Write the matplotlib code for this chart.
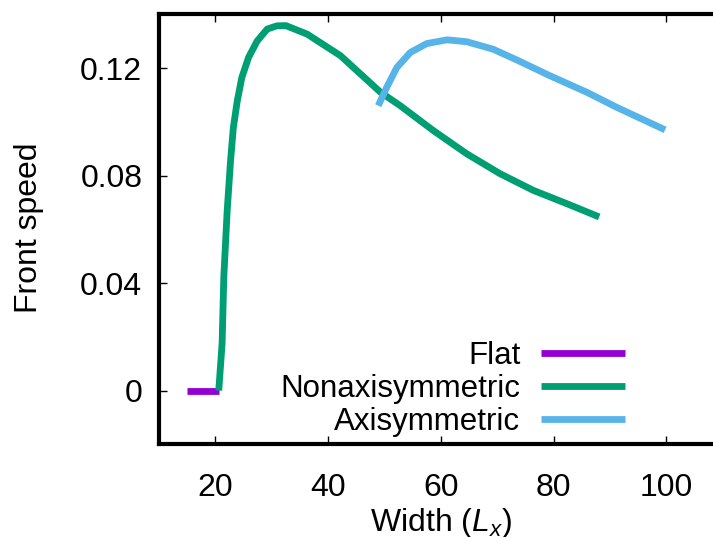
import matplotlib
matplotlib.use("Agg")
import matplotlib.pyplot as plt

# front speed vs channel width, one curve per front shape
flat_w = [15.0, 20.7]
flat_v = [0.0, 0.0]

nonaxi_w = [20.6, 21.2, 21.5, 22.1, 22.7, 23.2, 23.9, 24.7, 25.9, 27.4, 29.2, 30.9,
            32.5, 36.3, 42.2, 49.3, 52.8, 58.7, 64.6, 70.5, 76.4, 82.4, 88.1]
nonaxi_v = [0.0, 0.0176, 0.0423, 0.067, 0.0856, 0.098, 0.1079, 0.1165, 0.124, 0.130, 0.1345, 0.1357,
            0.1358, 0.1326, 0.1246, 0.111, 0.106, 0.0967, 0.0881, 0.0807, 0.0745, 0.0695, 0.0646]

axi_w = [48.9, 50.4, 52.2, 54.6, 57.5, 61.1, 64.6, 69.3, 73.5, 79.4, 85.9, 91.2, 99.8]
axi_v = [0.106, 0.1128, 0.1202, 0.1258, 0.1291, 0.1305, 0.1298, 0.127, 0.1230, 0.1171, 0.111, 0.1054, 0.097]

xticks = [20, 40, 60, 80, 100]
yticks = [0, 0.04, 0.08, 0.12]
ytick_labels = ["0", "0.04", "0.08", "0.12"]

plt.rcParams["font.family"] = ["Liberation Sans", "DejaVu Sans"]
plt.rcParams["mathtext.fontset"] = "custom"
plt.rcParams["mathtext.it"] = "Liberation Sans:italic"
plt.rcParams["mathtext.rm"] = "Liberation Sans"
fs = 23

W, H = 713, 537
fig = plt.figure(figsize=(W / 100, H / 100), dpi=100)
left, right, top, bottom = 159, 722.6, 14.3, 444.3
ax = fig.add_axes([left / W, 1 - bottom / H, (right - left) / W, (bottom - top) / H])

lw = 4.9
ax.plot(flat_w, flat_v, color="#9400D3", lw=lw, solid_capstyle="butt", label="Flat")
ax.plot(nonaxi_w, nonaxi_v, color="#009E73", lw=lw, solid_capstyle="butt", label="Nonaxisymmetric")
ax.plot(axi_w, axi_v, color="#56B4E9", lw=lw, solid_capstyle="butt", label="Axisymmetric")

ax.set_xlim(10, 110)
ax.set_ylim(-0.02, 0.14)
ax.set_xticks(xticks)
ax.set_yticks(yticks)
ax.set_yticklabels(ytick_labels)
ax.tick_params(direction="in", length=6, width=1, top=True, right=True, labelsize=fs)
ax.tick_params(axis="x", pad=21)
ax.tick_params(axis="y", pad=12)
for sp in ax.spines.values():
    sp.set_linewidth(3)

fig.text(29 / W, 1 - 227.7 / H, "Front speed", rotation=90, ha="center", va="center", fontsize=fs)
fig.text(440.8 / W, 1 - 531 / H, "Width ($L_x$)", ha="center", va="baseline", fontsize=fs)

leg = ax.legend(loc="upper right", bbox_to_anchor=((625.4 - left) / (right - left), (bottom - 341) / (bottom - top)),
                frameon=False, markerfirst=False, fontsize=22.5, handlelength=2.69, handletextpad=0.67,
                labelspacing=0.1, borderpad=0, borderaxespad=0)
for t in leg.get_texts():
    t.set_ha("right")

fig.savefig("out.png", dpi=100)
